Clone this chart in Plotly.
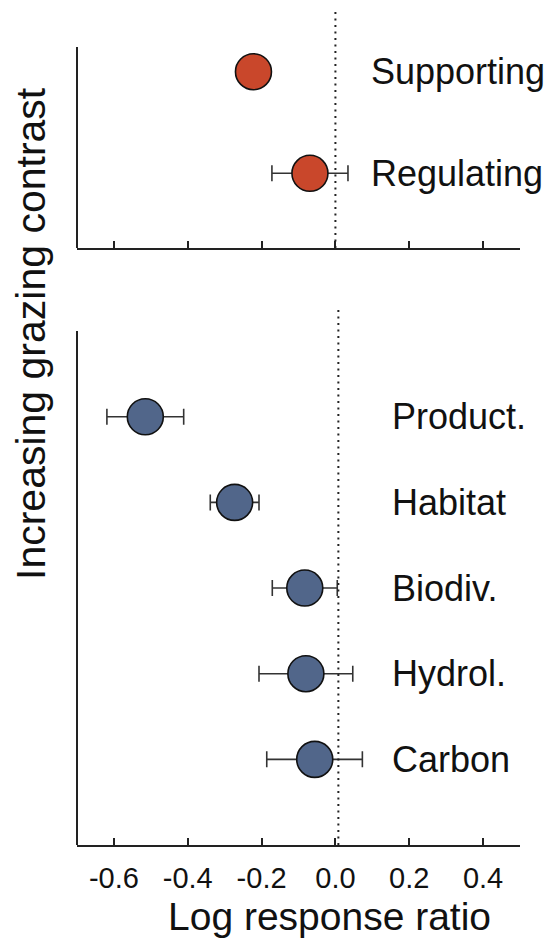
import plotly.graph_objects as go

# ---- data ----
top_categories = ["Supporting", "Regulating"]
top_means = [-0.222, -0.069]
top_lower = [-0.222, -0.172]
top_upper = [-0.222, 0.034]

bottom_categories = ["Product.", "Habitat", "Biodiv.", "Hydrol.", "Carbon"]
bottom_means = [-0.515, -0.273, -0.083, -0.080, -0.056]
bottom_lower = [-0.619, -0.339, -0.171, -0.207, -0.186]
bottom_upper = [-0.411, -0.207, 0.005, 0.047, 0.073]

x_tickvals = [-0.6, -0.4, -0.2, 0.0, 0.2, 0.4]
x_ticktext = ["-0.6", "-0.4", "-0.2", "0.0", "0.2", "0.4"]

# ---- style ----
OFF = 8  # page body margin
W, H = 554 - OFF, 940 - OFF
FONT = "Liberation Sans, Arial, Helvetica, sans-serif"
ORANGE = "#C9472B"
BLUE = "#51668A"
XRANGE = [-0.7, 0.5]


def px(p):
    return (p - OFF) / W


def py(p):
    return (H - (p - OFF)) / H


top_pos = list(range(len(top_categories) - 1, -1, -1))
bot_pos = list(range(len(bottom_categories) - 1, -1, -1))

fig = go.Figure()


def add_panel(means, lo, hi, pos, color, xa, ya):
    fig.add_trace(go.Scatter(
        x=means, y=pos, mode="markers", xaxis=xa, yaxis=ya,
        marker=dict(size=36, color=color, line=dict(color="#111111", width=1.6)),
        error_x=dict(type="data", symmetric=False,
                     array=[h - m for h, m in zip(hi, means)],
                     arrayminus=[m - l for m, l in zip(means, lo)],
                     color="#333333", thickness=1.6, width=8),
        showlegend=False, hoverinfo="skip", cliponaxis=False,
    ))


add_panel(top_means, top_lower, top_upper, top_pos, ORANGE, "x", "y")
add_panel(bottom_means, bottom_lower, bottom_upper, bot_pos, BLUE, "x2", "y2")

x_dom = [px(77), px(520)]

fig.update_layout(
    width=W, height=H,
    margin=dict(l=0, r=0, t=0, b=0),
    paper_bgcolor="white", plot_bgcolor="white",
    font=dict(family=FONT, color="#111111"),
    xaxis=dict(domain=x_dom, range=XRANGE, anchor="y",
               showline=True, linecolor="#222222", linewidth=2,
               ticks="inside", ticklen=7, tickwidth=1.5, tickcolor="#222222",
               tickvals=x_tickvals, showticklabels=False,
               showgrid=False, zeroline=False),
    yaxis=dict(domain=[py(248), py(8)], range=[-0.735, 1.627],
               showline=False, showticklabels=False, ticks="",
               showgrid=False, zeroline=False),
    xaxis2=dict(domain=x_dom, range=XRANGE, anchor="y2",
                showline=True, linecolor="#222222", linewidth=2,
                ticks="inside", ticklen=7, tickwidth=1.5, tickcolor="#222222",
                tickvals=x_tickvals, ticktext=x_ticktext,
                tickfont=dict(size=29, family=FONT, color="#111111"),
                ticklabelstandoff=6,
                showgrid=False, zeroline=False),
    yaxis2=dict(domain=[py(845), py(308)], range=[-1.0, 5.27],
                showline=False, showticklabels=False, ticks="",
                showgrid=False, zeroline=False),
)

# zero reference lines (dotted) and left spines
fig.add_shape(type="line", xref="x", yref="y domain", x0=0, x1=0, y0=0, y1=1,
              line=dict(color="#222222", width=2, dash="2px,4.5px"))
fig.add_shape(type="line", xref="x2", yref="y2 domain", x0=0.008, x1=0.008, y0=0, y1=1,
              line=dict(color="#222222", width=2, dash="2px,4.5px"))
fig.add_shape(type="line", xref="x domain", yref="y domain", x0=0, x1=0,
              y0=0, y1=(248 - 47) / 240, line=dict(color="#222222", width=2))
fig.add_shape(type="line", xref="x2 domain", yref="y2 domain", x0=0, x1=0,
              y0=0, y1=(845 - 331) / 537, line=dict(color="#222222", width=2))

# category labels
for c, p in zip(top_categories, top_pos):
    fig.add_annotation(text=c, x=0.093, y=p, xref="x", yref="y", xanchor="left",
                       yanchor="middle", showarrow=False, borderpad=0,
                       font=dict(size=36, family=FONT, color="#111111"))
for c, p in zip(bottom_categories, bot_pos):
    fig.add_annotation(text=c, x=0.150, y=p, xref="x2", yref="y2", xanchor="left",
                       yanchor="middle", showarrow=False, borderpad=0,
                       font=dict(size=36, family=FONT, color="#111111"))

# axis titles
fig.add_annotation(text="Increasing grazing contrast", x=px(31), y=py(334),
                   xref="paper", yref="paper", textangle=-90, showarrow=False,
                   xanchor="center", yanchor="middle",
                   font=dict(size=41, family=FONT, color="#111111"))
fig.add_annotation(text="Log response ratio", x=px(329), y=py(916),
                   xref="paper", yref="paper", showarrow=False,
                   xanchor="center", yanchor="middle", borderpad=0,
                   font=dict(size=39, family=FONT, color="#111111"))

fig.write_html("out.html")
